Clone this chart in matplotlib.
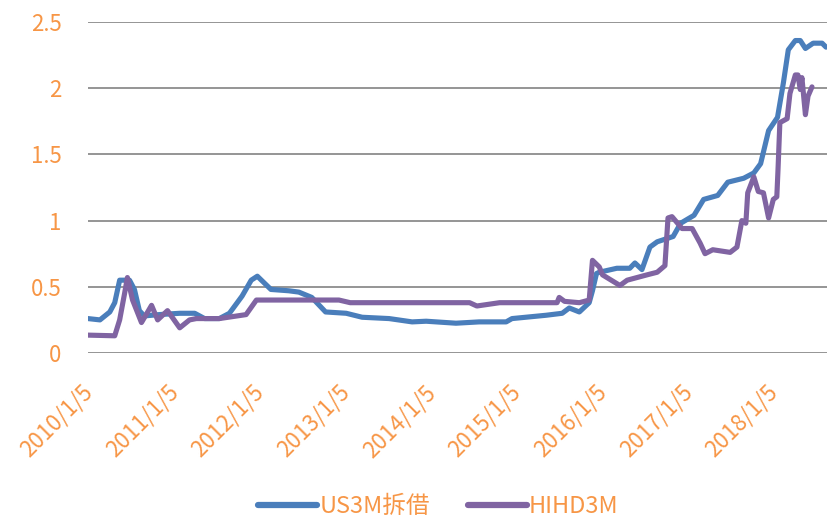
import numpy as np
import pandas as pd
import matplotlib as mpl
mpl.use('Agg')
import matplotlib.pyplot as plt
import matplotlib.transforms as mtransforms

plt.rcParams['font.family'] = ['Noto Sans CJK SC', 'DejaVu Sans']

# US3M拆借
us_dates = ['2010-01-05', '2010-02-25', '2010-04-08', '2010-04-29', '2010-05-20', '2010-07-01',
            '2010-07-22', '2010-08-12', '2010-09-02', '2010-11-04', '2011-01-31', '2011-04-05',
            '2011-05-17', '2011-07-19', '2011-08-31', '2011-10-24', '2011-12-02', '2011-12-28',
            '2012-01-26', '2012-02-24', '2012-05-10', '2012-06-22', '2012-08-16', '2012-10-14',
            '2013-01-10', '2013-03-19', '2013-07-12', '2013-10-18', '2013-12-17', '2014-04-23',
            '2014-07-31', '2014-11-23', '2014-12-18', '2015-05-12', '2015-07-20', '2015-08-19',
            '2015-10-01', '2015-11-12', '2015-11-26', '2015-12-13', '2015-12-25', '2016-03-09',
            '2016-05-03', '2016-05-25', '2016-06-24', '2016-07-28', '2016-08-28', '2016-11-04',
            '2016-12-06', '2017-02-01', '2017-03-14', '2017-05-13', '2017-06-25', '2017-09-01',
            '2017-10-14', '2017-11-12', '2017-12-16', '2018-01-23', '2018-02-17', '2018-03-10',
            '2018-04-09', '2018-04-30', '2018-05-22', '2018-06-24', '2018-08-01', '2018-08-18']
us_vals = [0.26, 0.25, 0.31, 0.38, 0.55, 0.55,
           0.48, 0.32, 0.28, 0.29, 0.30, 0.30,
           0.26, 0.26, 0.30, 0.43, 0.55, 0.58,
           0.53, 0.48, 0.47, 0.46, 0.42, 0.31,
           0.30, 0.27, 0.26, 0.235, 0.24, 0.225,
           0.235, 0.235, 0.26, 0.285, 0.30, 0.34,
           0.31, 0.38, 0.47, 0.60, 0.61, 0.64,
           0.64, 0.68, 0.63, 0.80, 0.84, 0.88,
           0.98, 1.04, 1.16, 1.19, 1.29, 1.32,
           1.36, 1.43, 1.68, 1.78, 2.04, 2.29,
           2.36, 2.36, 2.30, 2.34, 2.34, 2.31]

# HIHD3M
hk_dates = ['2010-01-05', '2010-04-29', '2010-05-20', '2010-06-10', '2010-06-22', '2010-07-14',
            '2010-08-21', '2010-10-03', '2010-10-29', '2010-12-10', '2011-01-31', '2011-03-14',
            '2011-04-12', '2011-07-19', '2011-11-10', '2011-12-24', '2012-06-22', '2012-12-10',
            '2013-01-27', '2014-06-20', '2014-07-21', '2014-10-26', '2015-06-28', '2015-07-07',
            '2015-07-30', '2015-10-01', '2015-11-12', '2015-11-26', '2015-12-25', '2016-01-08',
            '2016-03-22', '2016-04-22', '2016-07-15', '2016-08-28', '2016-09-30', '2016-10-13',
            '2016-10-30', '2016-12-12', '2017-01-24', '2017-02-27', '2017-03-20', '2017-04-22',
            '2017-07-05', '2017-08-03', '2017-08-24', '2017-09-10', '2017-09-18', '2017-10-14',
            '2017-11-02', '2017-11-24', '2017-12-16', '2018-01-05', '2018-01-20', '2018-01-25',
            '2018-02-02', '2018-03-05', '2018-03-17', '2018-04-09', '2018-04-20', '2018-04-30',
            '2018-05-07', '2018-05-22', '2018-06-02', '2018-06-19']
hk_vals = [0.135, 0.13, 0.25, 0.45, 0.57, 0.40,
           0.23, 0.36, 0.25, 0.32, 0.19, 0.25,
           0.26, 0.26, 0.29, 0.40, 0.40, 0.40,
           0.38, 0.38, 0.355, 0.38, 0.38, 0.42,
           0.39, 0.38, 0.40, 0.70, 0.65, 0.59,
           0.51, 0.55, 0.59, 0.61, 0.66, 1.02,
           1.03, 0.94, 0.94, 0.83, 0.75, 0.78,
           0.76, 0.80, 1.00, 0.98, 1.21, 1.33,
           1.22, 1.21, 1.02, 1.16, 1.18, 1.38,
           1.74, 1.77, 1.96, 2.10, 2.10, 1.99,
           2.08, 1.80, 1.94, 2.01]

tick_dates = ['2010-01-05', '2011-01-05', '2012-01-05', '2013-01-05', '2014-01-05',
              '2015-01-05', '2016-01-05', '2017-01-05', '2018-01-05']
tick_labels = ['2010/1/5', '2011/1/5', '2012/1/5', '2013/1/5', '2014/1/5',
               '2015/1/5', '2016/1/5', '2017/1/5', '2018/1/5']

orange = '#F79646'
blue = '#4A7EBB'
purple = '#8064A2'
fs = 16
lw = 3.7

fig = plt.figure(figsize=(8.27, 5.21), dpi=100)
ax = fig.add_axes([88 / 827, 1 - 353 / 521, 1 - 88 / 827, (353 - 22) / 521])

ax.plot(pd.to_datetime(us_dates), us_vals, color=blue, lw=lw, label='US3M拆借',
        solid_capstyle='round', solid_joinstyle='round')
ax.plot(pd.to_datetime(hk_dates), hk_vals, color=purple, lw=lw, label='HIHD3M',
        solid_capstyle='round', solid_joinstyle='round')

ax.set_ylim(0, 2.5)
ax.set_yticks([0, 0.5, 1, 1.5, 2, 2.5])
ax.set_yticklabels(['0', '0.5', '1', '1.5', '2', '2.5'])
ax.set_xlim(pd.Timestamp('2010-01-05'), pd.Timestamp('2018-08-22'))
ax.set_xticks(pd.to_datetime(tick_dates))
ax.set_xticklabels(tick_labels, rotation=45, ha='right', rotation_mode='anchor')

ax.grid(axis='y', color='#8c8c8c', lw=1.3)
ax.set_axisbelow(True)
for s in ax.spines.values():
    s.set_visible(False)
ax.tick_params(axis='both', length=0, labelsize=fs, labelcolor=orange)
ax.tick_params(axis='y', pad=19)
ax.tick_params(axis='x', pad=20)

shift = mtransforms.ScaledTranslation(-7 / 100, 0, fig.dpi_scale_trans)
for lab in ax.get_xticklabels():
    lab.set_transform(lab.get_transform() + shift)

leg = fig.legend(loc='lower center', bbox_to_anchor=(0.53, -0.035), ncol=2, frameon=False,
                 fontsize=17, handlelength=2.5, handletextpad=0.1, columnspacing=1.6)
for t in leg.get_texts():
    t.set_color(orange)
for h in leg.legend_handles:
    h.set_linewidth(4.5)

fig.savefig('out.png', dpi=100)
